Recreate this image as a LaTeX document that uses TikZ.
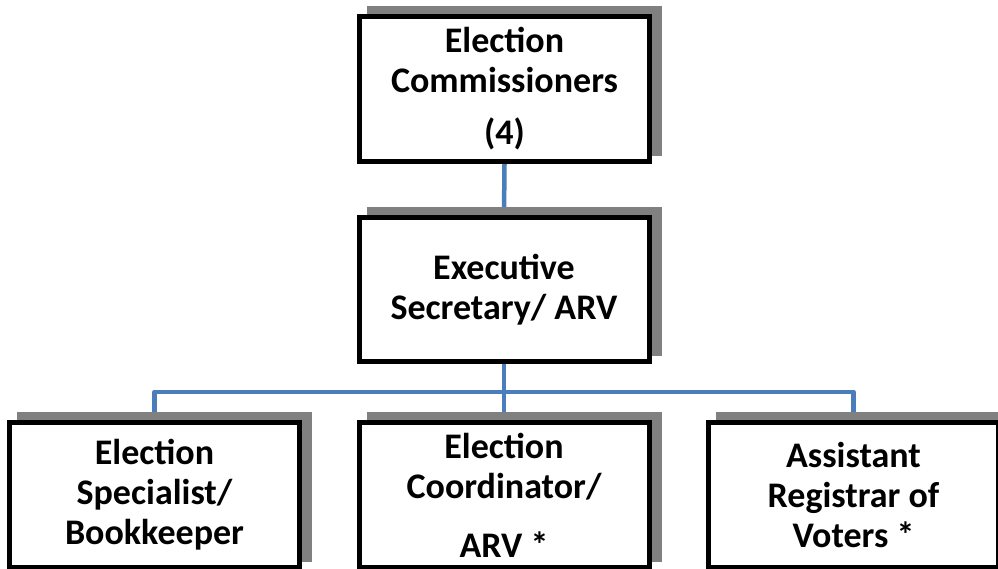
\documentclass[tikz,border=0pt]{standalone}
\usepackage{fontspec}
\setmainfont{Carlito}
\usetikzlibrary{shadows,backgrounds}
\definecolor{connblue}{HTML}{4A7EBB}
\definecolor{shadegray}{HTML}{808080}
\tikzset{
  box/.style={draw=black, line width=5pt, fill=white,
    minimum width=290pt, minimum height=145pt, inner sep=0pt,
    align=center, font=\fontsize{36}{40}\selectfont\bfseries,
    general shadow={fill=shadegray, draw=shadegray, shadow xshift=10pt, shadow yshift=8pt}},
  conn/.style={draw=connblue, line width=4.5pt, line join=round}
}
\begin{document}
\begin{tikzpicture}[x=1pt,y=-1pt]
\useasboundingbox (0,0) rectangle (998,568);
\node[box] (ec) at (504.5,89) {Election\\Commissioners\\[12pt](4)};
\node[box, minimum height=144pt] (es) at (504,289.5) {Executive\\Secretary/ ARV};
\node[box] (sp) at (154.5,495) {Election\\Specialist/\\Bookkeeper};
\node[box] (co) at (504,495) {Election\\Coordinator/\\[19pt]ARV *};
\node[box] (ar) at (853.5,495) {Assistant\\Registrar of\\Voters *};
\coordinate (bar) at (504,392);
\begin{scope}[on background layer]
\draw[conn] (ec.south) -- (es.north);
\draw[conn] (es.south) -- (co.north);
\draw[conn] (sp.north) |- (bar) -| (ar.north);
\end{scope}
\end{tikzpicture}
\end{document}
